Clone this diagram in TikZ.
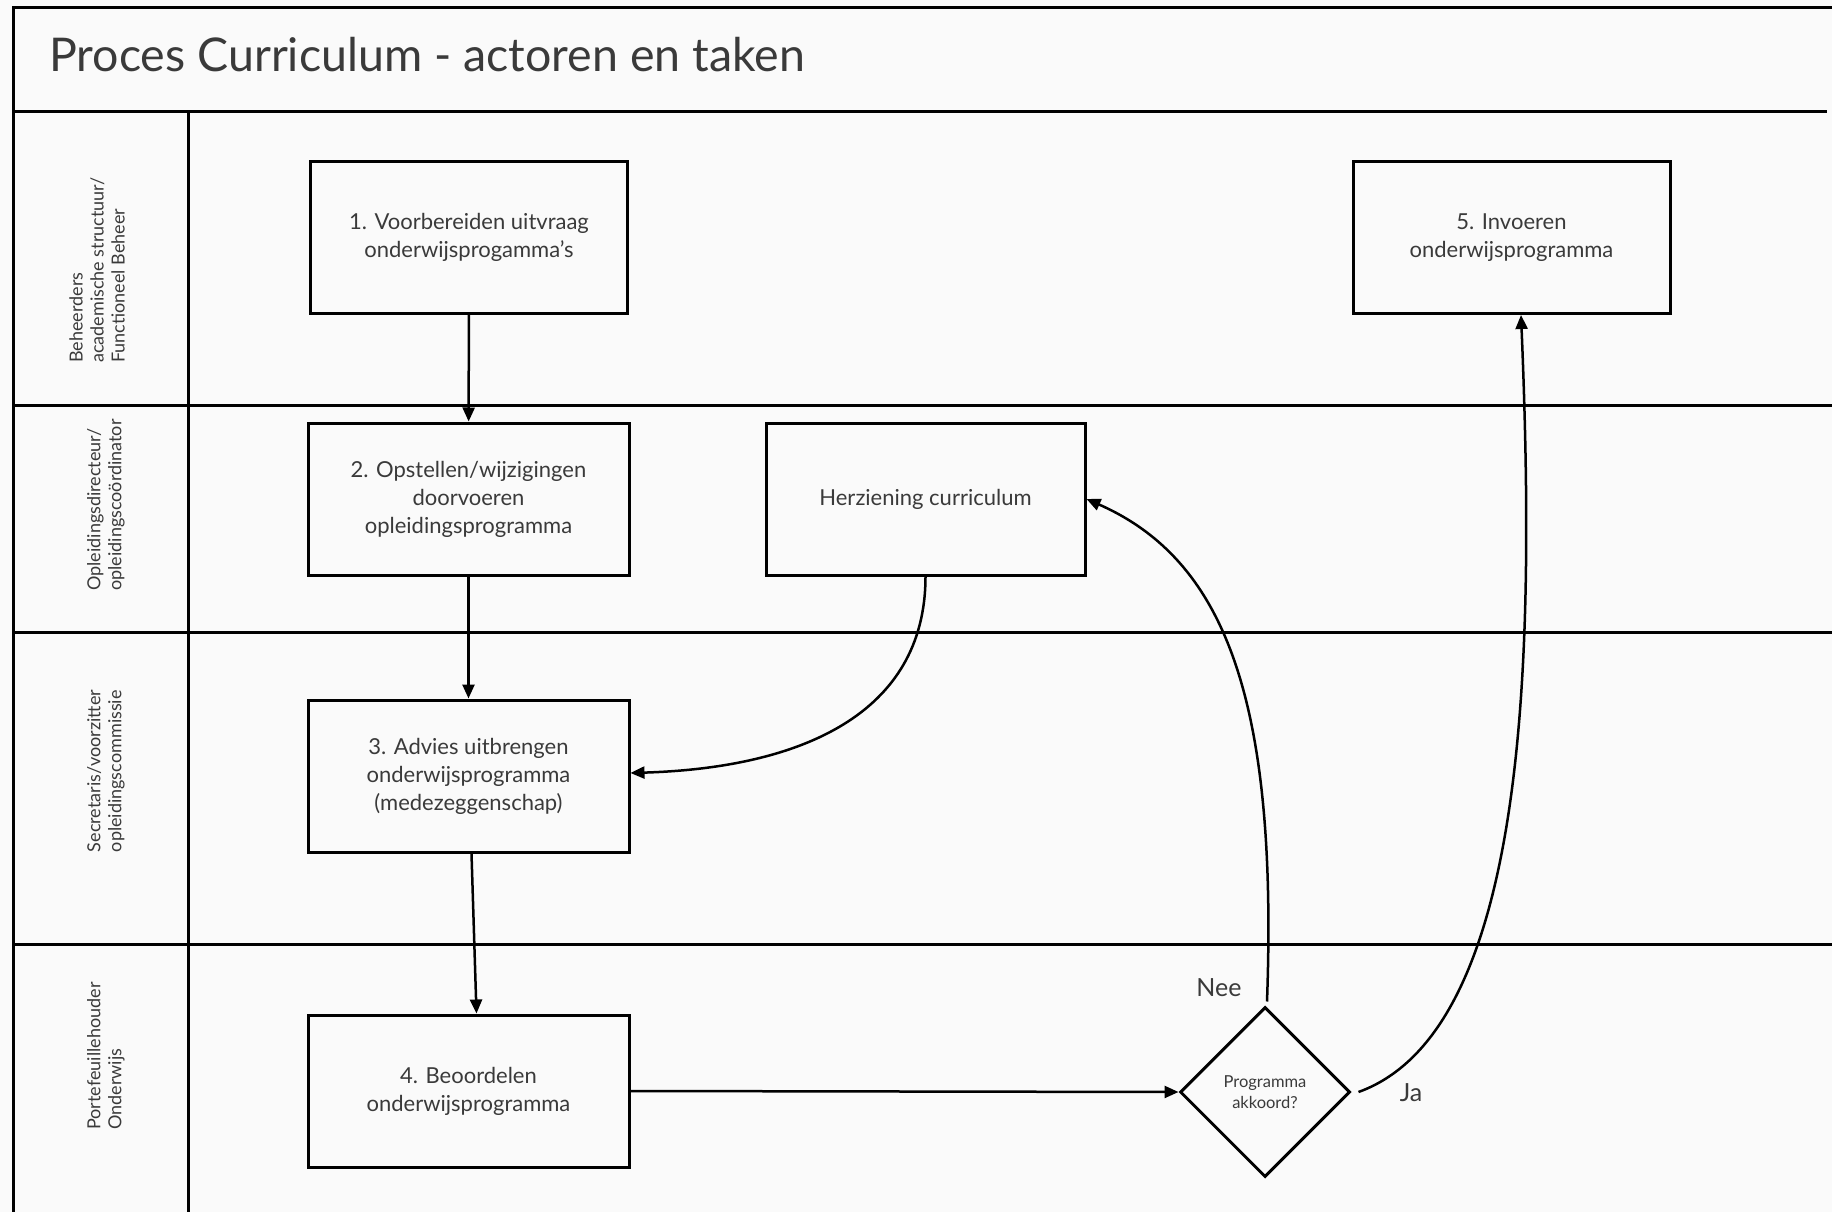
\documentclass[tikz,border=0pt]{standalone}
\usepackage{fontspec}
\setmainfont{Lato}
\usetikzlibrary{arrows.meta,shapes.geometric}
\definecolor{bgc}{RGB}{250,250,250}
\definecolor{txt}{RGB}{58,58,58}
\tikzset{
  frameline/.style={line width=3pt, draw=black},
  task/.style={draw=black, line width=3pt, minimum width=317pt, minimum height=152pt,
    inner sep=0pt, align=center, text=txt, font=\fontsize{22}{28}\selectfont},
  lanelabel/.style={rotate=90, align=left, text=txt, inner sep=0pt,
    font=\fontsize{18}{21}\selectfont},
  flow/.style={line width=2.5pt, draw=black, -{Triangle[length=14pt,width=12pt]}},
  decision/.style={diamond, draw=black, line width=3pt, minimum width=170pt,
    minimum height=170pt, inner sep=0pt, align=center, text=txt,
    font=\fontsize{16.5}{21}\selectfont},
  flowlabel/.style={text=txt, inner sep=0pt, font=\fontsize{25}{28}\selectfont},
}
\begin{document}
\begin{tikzpicture}[x=1pt,y=-1pt]
\useasboundingbox (0,0) rectangle (1832,1212);
\fill[bgc] (0,0) rectangle (1832,1212);
% frame
\draw[frameline] (13,1212) -- (13,8) -- (1832,8);
\draw[frameline] (13,112) -- (1827,112);
\draw[frameline] (188,112) -- (188,1212);
\draw[frameline] (13,405) -- (1832,405);
\draw[frameline] (13,632) -- (1832,632);
\draw[frameline] (13,944) -- (1832,944);
% title
\node[anchor=base west, text=txt, inner sep=0pt, font=\fontsize{46.5}{52}\selectfont] (title) at (49,72) {Proces Curriculum - actoren en taken};
% lane labels
\node[lanelabel] (l1) at (97,270) {Beheerders\\academische structuur/\\Functioneel Beheer};
\node[lanelabel] (l2) at (106,505) {Opleidingsdirecteur/\\opleidingscoördinator};
\node[lanelabel] (l3) at (106,771) {Secretaris/voorzitter\\opleidingscommissie};
\node[lanelabel] (l4) at (106,1056) {Portefeuillehouder\\Onderwijs};
% tasks
\node[task] (b1) at (469,237.5) {1. Voorbereiden uitvraag\\onderwijsprogamma's};
\node[task] (b5) at (1511.5,237.5) {5. Invoeren\\onderwijsprogramma};
\node[task, minimum width=321pt] (b2) at (468.5,499) {2. Opstellen/wijzigingen\\doorvoeren\\opleidingsprogramma};
\node[task, minimum width=319pt] (herz) at (925.5,499) {Herziening curriculum};
\node[task, minimum width=321pt] (b3) at (468.5,776) {3. Advies uitbrengen\\onderwijsprogramma\\(medezeggenschap)};
\node[task, minimum width=321pt] (b4) at (468.5,1091) {4. Beoordelen\\onderwijsprogramma};
\node[decision] (dia) at (1265,1092) {Programma\\akkoord?};
% labels
\node[flowlabel] (nee) at (1219,988) {Nee};
\node[flowlabel] (ja) at (1411,1093) {Ja};
% connectors
\draw[flow] (b1) -- (b2);
\draw[flow] (b2) -- (b3);
\draw[flow] ([xshift=3pt]b3.south) -- ([xshift=8pt]b4.north);
\draw[flow] (b4.east) -- (dia.west);
\draw[flow] (herz.south) .. controls (925.5,715) and (799,768) .. ([yshift=3pt]b3.east);
\draw[flow] ([yshift=4pt,xshift=2pt]dia.north) .. controls (1278,700) and (1225,560) .. (herz.east);
\draw[flow] ([xshift=7pt]dia.east) .. controls (1530,1030) and (1535,650) .. ([xshift=9.5pt]b5.south);
\end{tikzpicture}
\end{document}
